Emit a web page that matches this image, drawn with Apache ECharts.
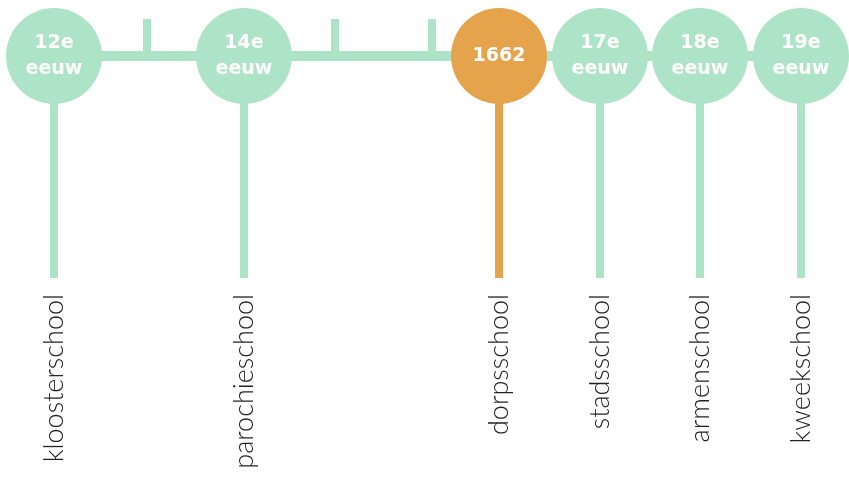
<!DOCTYPE html>
<html>
<head>
<meta charset="utf-8">
<script src="https://cdn.jsdelivr.net/npm/echarts@6/dist/echarts.min.js"></script>
<style>
  html, body { margin: 0; padding: 0; background: #fff; }
  #chart { width: 849px; height: 478px; }
</style>
</head>
<body>
<div id="chart"></div>
<script>
// tijdlijn: periodes en schooltypes
const periods = ["12e\neeuw", "14e\neeuw", "1662", "17e\neeuw", "18e\neeuw", "19e\neeuw"];
const schools = ["kloosterschool", "parochieschool", "dorpsschool", "stadsschool", "armenschool", "kweekschool"];
const stops = [5.4, 24.4, 49.9, 60.0, 70.0, 80.1]; // plaats op de tijdlijn
const minorTicks = [14.7, 33.5, 43.2];
const highlight = 2; // 1662

const green = "#ade3c6";
const orange = "#e5a44c";

// verticale maat (y loopt van boven naar beneden)
const lineY = 56;
const tickTop = 19;
const stemEnd = 278;
const labelTop = 294;

let chart = echarts.init(document.getElementById("chart"));

let option = {
  animation: false,
  grid: { left: 0, right: 0, top: 0, bottom: 0 },
  xAxis: { type: "value", min: 0, max: 84.9, show: false },
  yAxis: { type: "value", min: 0, max: 478, inverse: true, show: false },
  series: [
    {
      // hoofdlijn
      type: "line",
      data: [[stops[0], lineY], [stops[stops.length - 1], lineY]],
      symbol: "none",
      lineStyle: { color: green, width: 10 },
      z: 1,
    },
    {
      // kleine streepjes boven de lijn
      type: "custom",
      data: minorTicks.map((x) => [x]),
      renderItem(params, api) {
        let top = api.coord([api.value(0), tickTop]);
        let bot = api.coord([api.value(0), lineY]);
        return {
          type: "rect",
          shape: { x: top[0] - 4, y: top[1], width: 8, height: bot[1] - top[1] },
          style: { fill: green },
        };
      },
      z: 1,
    },
    {
      // stelen + schooltypes
      type: "custom",
      data: stops.map((x, i) => [x, i]),
      renderItem(params, api) {
        let i = api.value(1);
        let color = i === highlight ? orange : green;
        let top = api.coord([api.value(0), lineY]);
        let bot = api.coord([api.value(0), stemEnd]);
        let lab = api.coord([api.value(0), labelTop]);
        return {
          type: "group",
          children: [
            {
              type: "rect",
              shape: { x: top[0] - 4, y: top[1], width: 8, height: bot[1] - top[1] },
              style: { fill: color },
            },
            {
              type: "text",
              x: lab[0],
              y: lab[1],
              rotation: Math.PI / 2,
              style: {
                text: schools[i],
                fill: "#222",
                font: "300 27px Lato",
                align: "right",
                verticalAlign: "middle",
              },
            },
          ],
        };
      },
      z: 2,
    },
    {
      // cirkels
      type: "scatter",
      data: stops.map((x, i) => ({
        value: [x, lineY],
        itemStyle: { color: i === highlight ? orange : green, opacity: 1 },
      })),
      symbolSize: 96,
      label: {
        show: true,
        position: "inside",
        formatter: (p) => periods[p.dataIndex],
        color: "#fff",
        fontFamily: "DejaVu Sans",
        fontWeight: "bold",
        fontSize: 19,
        lineHeight: 26,
      },
      z: 3,
    },
  ],
};
chart.setOption(option);
</script>
</body>
</html>
